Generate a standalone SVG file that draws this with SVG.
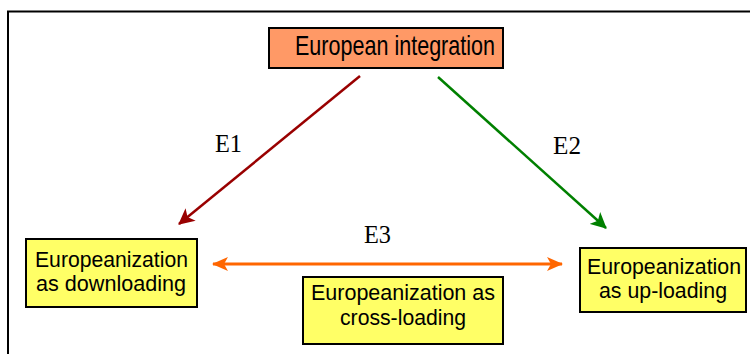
<svg xmlns="http://www.w3.org/2000/svg" width="750" height="354" viewBox="0 0 750 354">
<defs>
<style>
.box{stroke:#000;stroke-width:2}
.lbl{font-family:"Liberation Sans",Arial,sans-serif;font-size:21.5px;fill:#000}
.e{font-family:"Liberation Serif","Times New Roman",serif;font-size:25px;fill:#000}
</style>
<marker id="aRed" markerWidth="16" markerHeight="16" refX="15" refY="8" orient="auto" markerUnits="userSpaceOnUse"><path d="M0,0 L16,8 L0,16 L4,8 Z" fill="#990000"/></marker>
<marker id="aGreen" markerWidth="16" markerHeight="16" refX="15" refY="8" orient="auto" markerUnits="userSpaceOnUse"><path d="M0,0 L16,8 L0,16 L4,8 Z" fill="#008000"/></marker>
<marker id="aOrange" markerWidth="16" markerHeight="16" refX="15" refY="8" orient="auto-start-reverse" markerUnits="userSpaceOnUse"><path d="M0,1 L16,8 L0,15 L4,8 Z" fill="#FF6600"/></marker>
</defs>
<rect width="750" height="354" fill="#fff"/>
<rect x="8" y="11.5" width="760" height="360" fill="none" stroke="#000" stroke-width="2"/>
<g id="connectors">
<line x1="360" y1="76" x2="179" y2="224" stroke="#990000" stroke-width="2.5" marker-end="url(#aRed)"/>
<line x1="438" y1="77" x2="606" y2="228" stroke="#008000" stroke-width="2.5" marker-end="url(#aGreen)"/>
<line x1="213" y1="264" x2="562" y2="264" stroke="#FF6600" stroke-width="3" marker-start="url(#aOrange)" marker-end="url(#aOrange)"/>
<text class="e" x="215" y="152" textLength="27" lengthAdjust="spacingAndGlyphs">E1</text>
<text class="e" x="553" y="154" textLength="28" lengthAdjust="spacingAndGlyphs">E2</text>
<text class="e" x="364" y="243" textLength="27" lengthAdjust="spacingAndGlyphs">E3</text>
</g>
<g id="european-integration">
<rect class="box" x="269" y="28" width="234" height="40" fill="#FF9966"/>
<text x="295" y="55" font-family="'Liberation Sans',Arial,sans-serif" font-size="28" textLength="200" lengthAdjust="spacingAndGlyphs">European integration</text>
</g>
<g id="downloading">
<rect class="box" x="26" y="239" width="171" height="68" fill="#FFFF66"/>
<text class="lbl" x="35" y="267" textLength="153" lengthAdjust="spacingAndGlyphs">Europeanization</text>
<text class="lbl" x="36" y="291" textLength="150" lengthAdjust="spacingAndGlyphs">as downloading</text>
</g>
<g id="uploading">
<rect class="box" x="580" y="248" width="166" height="64" fill="#FFFF66"/>
<text class="lbl" x="587" y="274" textLength="154" lengthAdjust="spacingAndGlyphs">Europeanization</text>
<text class="lbl" x="599" y="298" textLength="128" lengthAdjust="spacingAndGlyphs">as up-loading</text>
</g>
<g id="crossloading">
<rect class="box" x="303" y="277" width="200" height="67" fill="#FFFF66"/>
<text class="lbl" x="311" y="300" textLength="184" lengthAdjust="spacingAndGlyphs">Europeanization as</text>
<text class="lbl" x="340" y="325" textLength="126" lengthAdjust="spacingAndGlyphs">cross-loading</text>
</g>
</svg>
